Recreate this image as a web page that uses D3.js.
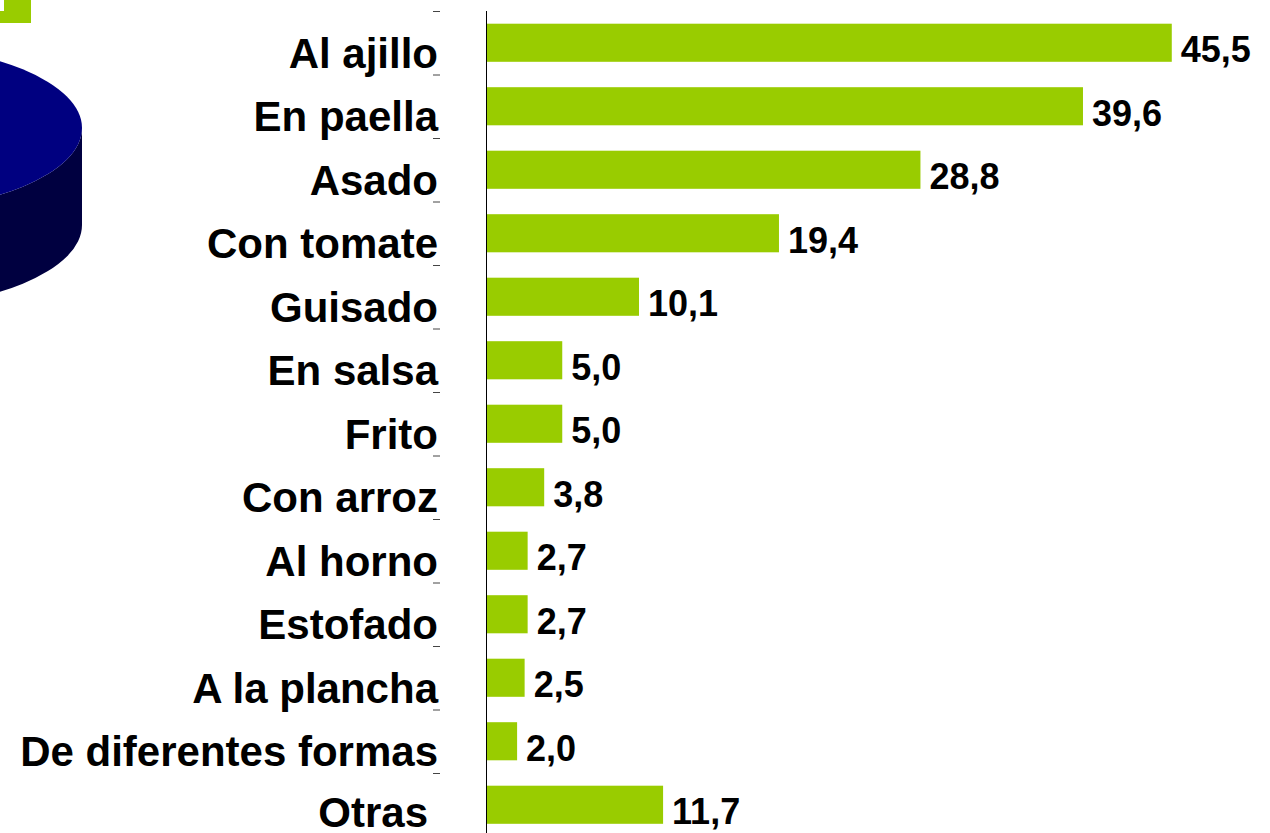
<!DOCTYPE html>
<html>
<head>
<meta charset="utf-8">
<script src="https://cdn.jsdelivr.net/npm/d3@7"></script>
<style>
  body { margin: 0; background: #fff; }
  svg { display: block; font-family: "Liberation Sans", Arial, sans-serif; font-weight: bold; }
</style>
</head>
<body>
<svg width="1270" height="833"></svg>
<script>
// data
var categories = ["Al ajillo", "En paella", "Asado", "Con tomate", "Guisado", "En salsa", "Frito",
  "Con arroz", "Al horno", "Estofado", "A la plancha", "De diferentes formas", "Otras"];
var values = [45.5, 39.6, 28.8, 19.4, 10.1, 5.0, 5.0, 3.8, 2.7, 2.7, 2.5, 2.0, 11.7];

var svg = d3.select("svg");
var barColor = "#99cc00";

// bit of the pie chart that sits off the left edge
var pie = svg.append("g");
var cx = -120, cy = 128, rx = 202, ry = 83, depth = 97;
pie.append("path")
  .attr("d", "M" + (cx - rx) + "," + cy +
    " A" + rx + "," + ry + " 0 0 0 " + (cx + rx) + "," + cy +
    " L" + (cx + rx) + "," + (cy + depth) +
    " A" + rx + "," + ry + " 0 0 1 " + (cx - rx) + "," + (cy + depth) + " Z")
  .attr("fill", "#000040");
pie.append("ellipse")
  .attr("cx", cx).attr("cy", cy).attr("rx", rx).attr("ry", ry)
  .attr("fill", "#000080");

// legend swatch cut by the top edge
svg.append("rect").attr("x", 0).attr("y", 0).attr("width", 31).attr("height", 23).attr("fill", barColor);
svg.append("rect").attr("x", 0).attr("y", 0).attr("width", 4).attr("height", 11).attr("fill", "#fff");

// scales
var y = d3.scaleBand()
  .domain(categories)
  .range([11, 836.5])
  .paddingInner(0.4)
  .paddingOuter(0.2);

var x = d3.scaleLinear()
  .domain([0, 50])
  .range([487, 487 + 50 * 15.05]);

// bars
svg.append("g")
  .selectAll("rect")
  .data(values)
  .enter()
  .append("rect")
    .attr("x", x(0))
    .attr("y", function (d, i) { return y(categories[i]); })
    .attr("width", function (d) { return x(d) - x(0); })
    .attr("height", y.bandwidth())
    .attr("fill", barColor);

// value labels
svg.append("g")
  .selectAll("text")
  .data(values)
  .enter()
  .append("text")
    .attr("x", function (d) { return x(d) + 9; })
    .attr("y", function (d, i) { return y(categories[i]) + y.bandwidth() / 2 + 19.5; })
    .attr("font-size", 36)
    .attr("fill", "#000")
    .text(function (d) { return d3.format(".1f")(d).replace(".", ","); });

// vertical axis line
svg.append("line")
  .attr("x1", 486.5).attr("x2", 486.5)
  .attr("y1", 11).attr("y2", 833)
  .attr("stroke", "#000").attr("stroke-width", 1);

// small ticks at band boundaries, next to the labels
var step = y.step();
svg.append("g")
  .selectAll("line")
  .data(d3.range(categories.length))
  .enter()
  .append("line")
    .attr("x1", 433).attr("x2", 440)
    .attr("y1", function (i) { return 11.5 + i * step; })
    .attr("y2", function (i) { return 11.5 + i * step; })
    .attr("stroke", "#444").attr("stroke-width", 1);

// category labels ("Otras" sits a little apart, like in the original)
var last = categories.length - 1;
svg.append("g")
  .selectAll("text")
  .data(categories)
  .enter()
  .append("text")
    .attr("x", function (d, i) { return i === last ? 428 : 438; })
    .attr("y", function (d, i) { return y(d) + y.bandwidth() / 2 + (i === last ? 22 : 25); })
    .attr("text-anchor", "end")
    .attr("font-size", 42)
    .attr("fill", "#000")
    .text(function (d) { return d; });
</script>
</body>
</html>
